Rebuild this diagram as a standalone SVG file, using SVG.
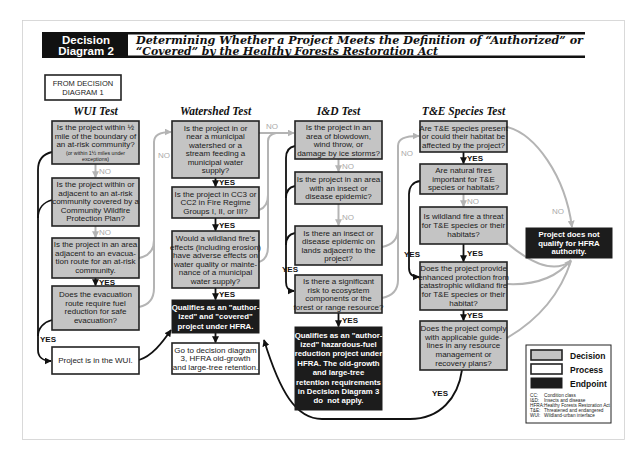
<svg xmlns="http://www.w3.org/2000/svg" width="631" height="454" viewBox="0 0 631 454">
<defs>
<marker id="ab" viewBox="0 0 10 10" refX="9" refY="5" markerWidth="7" markerHeight="7" markerUnits="userSpaceOnUse" orient="auto"><path d="M0,0 L10,5 L0,10 z" fill="#111"/></marker>
<marker id="ag" viewBox="0 0 10 10" refX="9" refY="5" markerWidth="7" markerHeight="7" markerUnits="userSpaceOnUse" orient="auto"><path d="M0,0 L10,5 L0,10 z" fill="#b4b4b4"/></marker>
</defs>
<style>
.t{font-family:"Liberation Sans",Arial,sans-serif;font-size:8px;text-anchor:middle;fill:#1a1a1a}
.w{fill:#fff;font-weight:bold;font-size:7.8px}
.sm{font-size:5.3px}
.hd{font-family:"Liberation Serif","Times New Roman",serif;font-weight:bold;font-style:italic;font-size:11.5px;text-anchor:middle;fill:#111}
.ht{font-family:"DejaVu Serif","Liberation Serif",serif;font-weight:bold;font-style:italic;font-size:10.5px;fill:#111}
.hb{font-family:"Liberation Sans",Arial,sans-serif;font-weight:bold;font-size:11.5px;fill:#fff;text-anchor:middle}
.yes{font-family:"Liberation Sans",Arial,sans-serif;font-weight:bold;font-size:8px;fill:#111}
.no{font-family:"Liberation Sans",Arial,sans-serif;font-size:8px;fill:#aaa}
.dec{fill:#c4c4c4;stroke:#222;stroke-width:1.6}
.proc{fill:#fff;stroke:#222;stroke-width:1.6}
.end{fill:#1c1c1c;stroke:#1c1c1c;stroke-width:1}
.cb{fill:none;stroke:#111;stroke-width:1.8}
.cg{fill:none;stroke:#b4b4b4;stroke-width:2}
.ma{marker-end:url(#ab)}
.mg{marker-end:url(#ag)}
.lg{font-family:"Liberation Sans",Arial,sans-serif;font-size:4.7px;fill:#222}
.lt{font-family:"Liberation Sans",Arial,sans-serif;font-weight:bold;font-size:8.5px;fill:#111}
</style>
<rect x="0" y="0" width="631" height="454" fill="#fff"/>
<rect x="22.5" y="20.5" width="602" height="419" fill="none" stroke="#d0d0d0" stroke-width="0.8"/>

<g id="header">
<path d="M42,33.2 L585,33.2 M42,56.8 L585,56.8" fill="none" stroke="#111" stroke-width="2.5"/>
<rect x="42" y="32" width="86" height="26" fill="#111"/>
<text class="hb" x="86" y="43.5">Decision</text>
<text class="hb" x="86" y="54.5">Diagram 2</text>
<text class="ht" x="136" y="43.5" textLength="447" lengthAdjust="spacingAndGlyphs">Determining Whether a Project Meets the Definition of “Authorized” or</text>
<text class="ht" x="136" y="54.5" textLength="302" lengthAdjust="spacingAndGlyphs">“Covered” by the Healthy Forests Restoration Act</text>
</g>

<g id="from">
<rect class="proc" x="45" y="75" width="76" height="25" stroke-width="1"/>
<text class="t" x="83" y="85.5" style="font-size:7.5px">FROM DECISION</text>
<text class="t" x="83" y="95" style="font-size:7.5px">DIAGRAM 1</text>
</g>

<g id="titles">
<text class="hd" x="95.5" y="115">WUI Test</text>
<text class="hd" x="215.5" y="115">Watershed Test</text>
<text class="hd" x="338.5" y="115">I&amp;D Test</text>
<text class="hd" x="463.5" y="115">T&amp;E Species Test</text>
</g>

<g id="connectors">
<path class="cg mg" d="M95.5,164 L95.5,177.5"/>
<path class="cg mg" d="M95.5,226 L95.5,237.5"/>
<path class="cb ma" d="M95.5,278 L95.5,285.5"/>
<path class="cb ma" d="M52,152 C43,154 38,160 38,170 L38,350 C38,357 43,361 51,361"/>
<path class="cb" d="M52,200 C44,202 38,208 38,218"/>
<path class="cb" d="M52,320 C44,322 38,328 38,336"/>
<path class="cb ma" d="M139,360 C152,356 162,343 171,330"/>
<path class="cg mg" d="M139,307 C149,305 154,298 154,288 L154,142 C154,135 160,132 171,132"/>
<path class="cg" d="M139,258 C149,256 154,250 154,240"/>
<path class="cb ma" d="M215.5,178 L215.5,186.5"/>
<path class="cb ma" d="M215.5,218 L215.5,230.5"/>
<path class="cb ma" d="M215.5,288 L215.5,299.5"/>
<path class="cb ma" d="M215.5,333 L215.5,342.5"/>
<path class="cg mg" d="M259,133 L294,133"/>
<path class="cg" d="M259,210 C265,208 268,203 268,195 L268,141 C268,137 271,134 276,133"/>
<path class="cg" d="M259,262 C265,260 268,255 268,247 L268,195"/>
<path class="cg mg" d="M338.5,159 L338.5,171.5"/>
<path class="cg mg" d="M338.5,204 L338.5,225.5"/>
<path class="cb ma" d="M338.5,313 L338.5,326.5"/>
<path class="cb ma" d="M295,146 C289,147 286,151 286,158 L286,282 C286,288 289,291 294,291"/>
<path class="cb" d="M295,186 C289,187 286,191 286,198"/>
<path class="cb" d="M295,233 C289,234 286,238 286,245"/>
<path class="cg mg" d="M382,298 C392,296 398,290 398,280 L398,146 C398,139 404,136 419,136"/>
<path class="cg" d="M382,247 C392,245 398,239 398,229"/>
<path class="cb ma" d="M463.5,152 L463.5,163.5"/>
<path class="cg mg" d="M463.5,194 L463.5,206.5"/>
<path class="cb ma" d="M463.5,244 L463.5,261.5"/>
<path class="cb ma" d="M463.5,310 L463.5,320.5"/>
<path class="cb ma" d="M420,181 C413,182 409,187 409,194 L409,268 C409,274 413,277 419,277"/>
<path class="cg mg" d="M507,127 C535,134 565,175 572,227"/>
<path class="cg" d="M507,243 Q548,278 571,261"/>
<path class="cg mg" d="M507,284 Q550,286 571,260"/>
<path class="cg" d="M507,338 Q555,310 571,261"/>
<path class="cb ma" d="M462,370 C458,398 440,419 410,419 L322,419 C296,419 280,392 264,340"/>
</g>

<g id="labels">
<text class="no" x="99" y="174">NO</text>
<text class="no" x="99" y="235">NO</text>
<text class="yes" x="99" y="285">YES</text>
<text class="yes" x="40" y="342">YES</text>
<text class="no" x="158" y="158">NO</text>
<text class="yes" x="219" y="185">YES</text>
<text class="yes" x="219" y="228">YES</text>
<text class="yes" x="219" y="297">YES</text>
<text class="no" x="266" y="129">NO</text>
<text class="no" x="342" y="169">NO</text>
<text class="no" x="342" y="220">NO</text>
<text class="yes" x="282" y="272">YES</text>
<text class="yes" x="342" y="323">YES</text>
<text class="no" x="401" y="156">NO</text>
<text class="yes" x="467" y="161">YES</text>
<text class="no" x="467" y="204">NO</text>
<text class="yes" x="467" y="256">YES</text>
<text class="yes" x="404" y="257">YES</text>
<text class="yes" x="467" y="318">YES</text>
<text class="yes" x="432" y="396">YES</text>
<text class="no" x="552" y="214">NO</text>
</g>

<g id="w1"><rect class="dec" x="52" y="121" width="87" height="43"/>
<text class="t" x="95.5" y="130">Is the project within ½</text>
<text class="t" x="95.5" y="138.5">mile of the boundary of</text>
<text class="t" x="95.5" y="147">an at-risk community?</text>
<text class="t sm" x="95.5" y="154.5">(or within 1½ miles under</text>
<text class="t sm" x="95.5" y="161">exceptions)</text></g>

<g id="w2"><rect class="dec" x="52" y="178" width="87" height="48"/>
<text class="t" x="95.5" y="187">Is the project within or</text>
<text class="t" x="95.5" y="195.5">adjacent to an at-risk</text>
<text class="t" x="95.5" y="204">community covered by a</text>
<text class="t" x="95.5" y="212.5">Community Wildfire</text>
<text class="t" x="95.5" y="221">Protection Plan?</text></g>

<g id="w3"><rect class="dec" x="52" y="238" width="87" height="40"/>
<text class="t" x="95.5" y="247">Is the project in an area</text>
<text class="t" x="95.5" y="255.5">adjacent to an evacua-</text>
<text class="t" x="95.5" y="264">tion route for an at-risk</text>
<text class="t" x="95.5" y="272.5">community.</text></g>

<g id="w4"><rect class="dec" x="52" y="286" width="87" height="44"/>
<text class="t" x="95.5" y="297">Does the evacuation</text>
<text class="t" x="95.5" y="305.5">route require fuel</text>
<text class="t" x="95.5" y="314">reduction for safe</text>
<text class="t" x="95.5" y="322.5">evacuation?</text></g>

<g id="w5"><rect class="proc" x="52" y="347" width="87" height="27"/>
<text class="t" x="95.5" y="363">Project is in the WUI.</text></g>

<g id="s1"><rect class="dec" x="172" y="121" width="87" height="57"/>
<text class="t" x="215.5" y="130.5">Is the project in or</text>
<text class="t" x="215.5" y="139">near a municipal</text>
<text class="t" x="215.5" y="147.5">watershed or a</text>
<text class="t" x="215.5" y="156">stream feeding a</text>
<text class="t" x="215.5" y="164.5">municipal water</text>
<text class="t" x="215.5" y="173">supply?</text></g>

<g id="s2"><rect class="dec" x="172" y="187" width="87" height="31"/>
<text class="t" x="215.5" y="196.8">Is the project in CC3 or</text>
<text class="t" x="215.5" y="205.3">CC2 in Fire Regime</text>
<text class="t" x="215.5" y="213.8">Groups I, II, or III?</text></g>

<g id="s3"><rect class="dec" x="172" y="231" width="87" height="57"/>
<text class="t" x="215.5" y="241">Would a wildland fire’s</text>
<text class="t" x="215.5" y="249.5">effects (including erosion)</text>
<text class="t" x="215.5" y="258">have adverse effects on</text>
<text class="t" x="215.5" y="266.5">water quality or mainte-</text>
<text class="t" x="215.5" y="275">nance of a municipal</text>
<text class="t" x="215.5" y="283.5">water supply?</text></g>

<g id="s4"><rect class="end" x="172" y="300" width="87" height="33"/>
<text class="t w" x="215.5" y="310">Qualifies as an "author-</text>
<text class="t w" x="215.5" y="319.3">ized" and "covered"</text>
<text class="t w" x="215.5" y="328.6">project under HFRA.</text></g>

<g id="s5"><rect class="proc" x="172" y="343" width="87" height="31"/>
<text class="t" x="215.5" y="352.5">Go to decision diagram</text>
<text class="t" x="215.5" y="361">3, HFRA old-growth</text>
<text class="t" x="215.5" y="369.5">and large-tree retention.</text></g>

<g id="d1"><rect class="dec" x="295" y="121" width="87" height="38"/>
<text class="t" x="338.5" y="130">Is the project in an</text>
<text class="t" x="338.5" y="138.5">area of blowdown,</text>
<text class="t" x="338.5" y="147">wind throw, or</text>
<text class="t" x="338.5" y="155.5">damage by ice storms?</text></g>

<g id="d2"><rect class="dec" x="295" y="172" width="87" height="32"/>
<text class="t" x="338.5" y="182.3">Is the project in an area</text>
<text class="t" x="338.5" y="190.8">with an insect or</text>
<text class="t" x="338.5" y="199.3">disease epidemic?</text></g>

<g id="d3"><rect class="dec" x="295" y="226" width="87" height="39"/>
<text class="t" x="338.5" y="235.5">Is there an insect or</text>
<text class="t" x="338.5" y="244">disease epidemic on</text>
<text class="t" x="338.5" y="252.5">lands adjacent to the</text>
<text class="t" x="338.5" y="261">project?</text></g>

<g id="d4"><rect class="dec" x="295" y="275" width="87" height="38"/>
<text class="t" x="338.5" y="284">Is there a significant</text>
<text class="t" x="338.5" y="292.5">risk to ecosystem</text>
<text class="t" x="338.5" y="301">components or the</text>
<text class="t" x="338.5" y="309.5">forest or range resource?</text></g>

<g id="d5"><rect class="end" x="295" y="327" width="87" height="83"/>
<text class="t w" x="338.5" y="337.5">Qualifies as an "author-</text>
<text class="t w" x="338.5" y="346.9">ized" hazardous-fuel</text>
<text class="t w" x="338.5" y="356.3">reduction project under</text>
<text class="t w" x="338.5" y="365.7">HFRA. The old-growth</text>
<text class="t w" x="338.5" y="375.1">and large-tree</text>
<text class="t w" x="338.5" y="384.5">retention requirements</text>
<text class="t w" x="338.5" y="393.9">in Decision Diagram 3</text>
<text class="t w" x="338.5" y="403.3" style="white-space:pre">do  not apply.</text></g>

<g id="t1"><rect class="dec" x="420" y="121" width="87" height="31"/>
<text class="t" x="463.5" y="130.8">Are T&amp;E species present</text>
<text class="t" x="463.5" y="139.3">or could their habitat be</text>
<text class="t" x="463.5" y="147.8">affected by the project?</text></g>

<g id="t2"><rect class="dec" x="420" y="164" width="87" height="30"/>
<text class="t" x="463.5" y="173.3">Are natural fires</text>
<text class="t" x="463.5" y="181.8">important for T&amp;E</text>
<text class="t" x="463.5" y="190.3">species or habitats?</text></g>

<g id="t3"><rect class="dec" x="420" y="207" width="87" height="37"/>
<text class="t" x="463.5" y="219.3">Is wildland fire a threat</text>
<text class="t" x="463.5" y="228.3">for T&amp;E species or their</text>
<text class="t" x="463.5" y="237.3">habitats?</text></g>

<g id="t4"><rect class="dec" x="420" y="262" width="87" height="48"/>
<text class="t" x="463.5" y="270.7">Does the project provide</text>
<text class="t" x="463.5" y="279.5">enhanced protection from</text>
<text class="t" x="463.5" y="288.3">catastrophic wildland fire</text>
<text class="t" x="463.5" y="297.1">for T&amp;E species or their</text>
<text class="t" x="463.5" y="305.9">habitat?</text></g>

<g id="t5"><rect class="dec" x="420" y="321" width="87" height="49"/>
<text class="t" x="463.5" y="330.7">Does the project comply</text>
<text class="t" x="463.5" y="339.5">with applicable guide-</text>
<text class="t" x="463.5" y="348.3">lines in any resource</text>
<text class="t" x="463.5" y="357.1">management or</text>
<text class="t" x="463.5" y="365.9">recovery plans?</text></g>

<g id="e1"><rect class="end" x="526" y="228" width="86" height="30"/>
<text class="t w" x="569" y="237.3">Project does not</text>
<text class="t w" x="569" y="245.8">qualify for HFRA</text>
<text class="t w" x="569" y="254.3">authority.</text></g>

<g id="legend">
<rect x="526" y="345" width="85" height="78" fill="#fff" stroke="#222" stroke-width="1"/>
<rect class="dec" x="531" y="350" width="31" height="10" stroke-width="1"/>
<rect class="proc" x="531" y="364" width="31" height="10" stroke-width="1"/>
<rect class="end" x="531" y="378" width="31" height="10"/>
<text class="lt" x="570" y="358.5">Decision</text>
<text class="lt" x="570" y="372.5">Process</text>
<text class="lt" x="570" y="386.5">Endpoint</text>
<text class="lg" x="530" y="397">CC:</text><text class="lg" x="544" y="397">Condition class</text>
<text class="lg" x="530" y="402">I&amp;D:</text><text class="lg" x="544" y="402">Insects and disease</text>
<text class="lg" x="530" y="407">HFRA:</text><text class="lg" x="544" y="407">Healthy Forests Restoration Act</text>
<text class="lg" x="530" y="412">T&amp;E:</text><text class="lg" x="544" y="412">Threatened and endangered</text>
<text class="lg" x="530" y="417">WUI:</text><text class="lg" x="544" y="417">Wildland-urban interface</text>
</g>
</svg>
